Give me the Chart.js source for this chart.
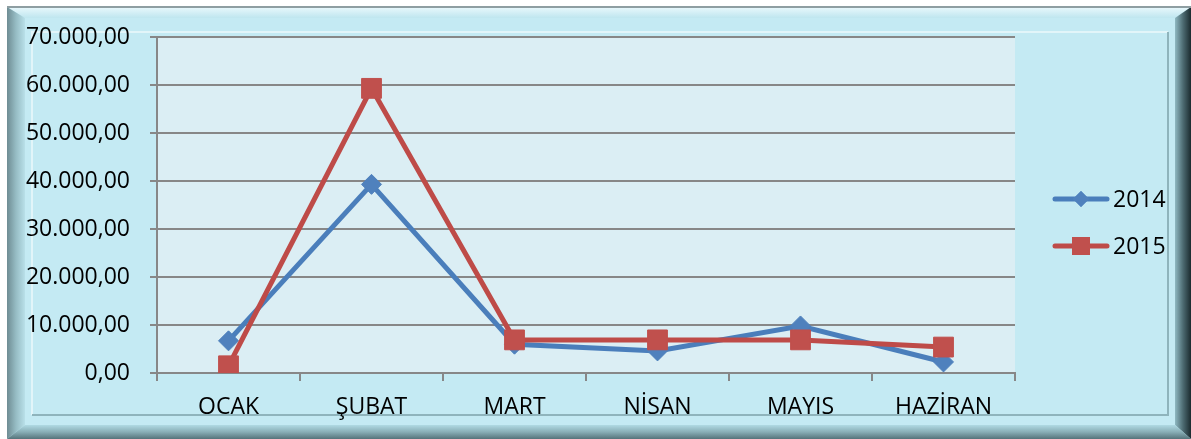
<!DOCTYPE html>
<html>
<head>
<meta charset="utf-8">
<script src="https://cdn.jsdelivr.net/npm/chart.js@4/dist/chart.umd.min.js"></script>
<style>
  html, body { margin: 0; padding: 0; background: #ffffff; }
  #wrap { width: 1191px; height: 439px; }
</style>
</head>
<body>
<div id="wrap"><canvas id="c" width="1191" height="439"></canvas></div>
<script>
const categories = ['OCAK', 'ŞUBAT', 'MART', 'NİSAN', 'MAYIS', 'HAZİRAN'];
const seriesNames = ['2014', '2015'];
const values2014 = [6700, 39300, 6000, 4600, 9800, 2300];
const values2015 = [1500, 59300, 6900, 6900, 6900, 5400];
const yTickValues = [0, 10000, 20000, 30000, 40000, 50000, 60000, 70000];

const FONT = "'Open Sans', 'Noto Sans', sans-serif";

function fmtTR(v) {
  const s = Math.round(v).toString().replace(/\B(?=(\d{3})+(?!\d))/g, '.');
  return s + ',00';
}

function poly(ctx, pts, fill) {
  ctx.beginPath();
  ctx.moveTo(pts[0][0], pts[0][1]);
  for (let i = 1; i < pts.length; i++) ctx.lineTo(pts[i][0], pts[i][1]);
  ctx.closePath();
  ctx.fillStyle = fill;
  ctx.fill();
}

const framePlugin = {
  id: 'frame',
  beforeDraw(chart) {
    const ctx = chart.ctx;
    const W = chart.width, H = chart.height;
    ctx.save();
    ctx.fillStyle = '#ffffff';
    ctx.fillRect(0, 0, W, H);
    const x0 = 7, y0 = 7, x1 = W, y1 = H;
    const bl = 18, bt = 11, br = 16, bb = 14;
    ctx.fillStyle = '#c4eaf3';
    ctx.fillRect(x0, y0, x1 - x0, y1 - y0);
    let g = ctx.createLinearGradient(0, y0, 0, y0 + bt);
    g.addColorStop(0, '#e9f8fc'); g.addColorStop(1, '#bfe6ef');
    poly(ctx, [[x0, y0], [x1, y0], [x1 - br, y0 + bt], [x0 + bl, y0 + bt]], g);
    g = ctx.createLinearGradient(x0, 0, x0 + bl, 0);
    g.addColorStop(0, '#6e8c93'); g.addColorStop(0.5, '#96bcc4'); g.addColorStop(1, '#b9e0e9');
    poly(ctx, [[x0, y0], [x0 + bl, y0 + bt], [x0 + bl, y1 - bb], [x0, y1]], g);
    g = ctx.createLinearGradient(x1 - br, 0, x1, 0);
    g.addColorStop(0, '#8fb9c2'); g.addColorStop(0.5, '#4d6b72'); g.addColorStop(1, '#1b2b2f');
    poly(ctx, [[x1, y0], [x1, y1], [x1 - br, y1 - bb], [x1 - br, y0 + bt]], g);
    g = ctx.createLinearGradient(0, y1 - bb, 0, y1);
    g.addColorStop(0, '#b0dae3'); g.addColorStop(0.5, '#88aeb6'); g.addColorStop(1, '#55737a');
    poly(ctx, [[x0, y1], [x0 + bl, y1 - bb], [x1 - br, y1 - bb], [x1, y1]], g);
    ctx.fillStyle = '#8e9ea2';
    ctx.fillRect(x0, y0 - 1, x1 - x0, 2);
    ctx.lineWidth = 2;
    ctx.strokeStyle = '#e2f5f9';
    ctx.beginPath();
    ctx.moveTo(32, 415); ctx.lineTo(32, 32); ctx.lineTo(1168, 32);
    ctx.stroke();
    ctx.strokeStyle = '#8fb4bc';
    ctx.beginPath();
    ctx.moveTo(1168, 32); ctx.lineTo(1168, 415); ctx.lineTo(32, 415);
    ctx.stroke();
    const a = chart.chartArea;
    ctx.fillStyle = '#dbeef4';
    ctx.fillRect(a.left, a.top, a.right - a.left, a.bottom - a.top);
    ctx.restore();
  }
};

const legendPlugin = {
  id: 'customLegend',
  afterDraw(chart) {
    const ctx = chart.ctx;
    const ys = [199, 246];
    const lx0 = 1053, lx1 = 1109;
    ctx.save();
    chart.data.datasets.forEach((ds, i) => {
      const y = ys[i];
      ctx.strokeStyle = ds.borderColor;
      ctx.lineWidth = 5;
      ctx.lineCap = 'round';
      ctx.beginPath();
      ctx.moveTo(lx0 + 2, y); ctx.lineTo(lx1 - 2, y);
      ctx.stroke();
      const cx = (lx0 + lx1) / 2;
      ctx.fillStyle = ds.pointBackgroundColor;
      if (ds.pointStyle === 'rectRot') {
        Chart.helpers.drawPoint(ctx, { pointStyle: 'rectRot', radius: 8, rotation: 0, borderWidth: 0 }, cx, y);
        ctx.fill();
      } else {
        ctx.fillRect(cx - 9, y - 9, 18, 18);
      }
      ctx.fillStyle = '#000000';
      ctx.font = '23px ' + FONT;
      ctx.textAlign = 'left';
      ctx.textBaseline = 'middle';
      ctx.fillText(ds.label, lx1 + 4, y + 1);
    });
    ctx.restore();
  }
};

new Chart(document.getElementById('c'), {
  type: 'line',
  data: {
    labels: categories,
    datasets: [
      {
        label: seriesNames[0],
        data: values2014,
        borderColor: '#4a7ebb',
        backgroundColor: '#4f81bd',
        pointBackgroundColor: '#4f81bd',
        pointBorderColor: '#4f81bd',
        pointBorderWidth: 1,
        pointStyle: 'rectRot',
        pointRadius: 10,
        borderWidth: 5,
        tension: 0,
        order: 1
      },
      {
        label: seriesNames[1],
        data: values2015,
        borderColor: '#be4b48',
        backgroundColor: '#c0504d',
        pointBackgroundColor: '#c0504d',
        pointBorderColor: '#c0504d',
        pointBorderWidth: 1,
        pointStyle: 'rect',
        pointRadius: 14,
        borderWidth: 5,
        tension: 0,
        order: 0
      }
    ]
  },
  options: {
    responsive: false,
    animation: false,
    devicePixelRatio: 1,
    layout: { padding: { left: 0, top: 37, right: 176, bottom: 16 } },
    plugins: {
      legend: { display: false },
      tooltip: { enabled: false },
      title: { display: false }
    },
    scales: {
      x: {
        offset: true,
        afterFit(scale) { scale.height = 50; },
        grid: {
          offset: true,
          drawOnChartArea: false,
          drawTicks: true,
          tickLength: 8,
          color: '#878787',
          lineWidth: 2
        },
        border: { display: true, color: '#878787', width: 2 },
        ticks: {
          color: '#000000',
          font: { family: FONT, size: 23 },
          padding: 13,
          maxRotation: 0,
          autoSkip: false
        }
      },
      y: {
        min: 0,
        max: 70000,
        afterFit(scale) { scale.width = 157; },
        afterBuildTicks(scale) { scale.ticks = yTickValues.map(v => ({ value: v })); },
        grid: {
          color: '#878787',
          lineWidth: 2,
          tickLength: 7,
          drawTicks: true
        },
        border: { display: true, color: '#878787', width: 2 },
        ticks: {
          color: '#000000',
          font: { family: FONT, size: 23 },
          padding: 20,
          callback: (v) => fmtTR(v)
        }
      }
    }
  },
  plugins: [framePlugin, legendPlugin]
});
</script>
</body>
</html>
